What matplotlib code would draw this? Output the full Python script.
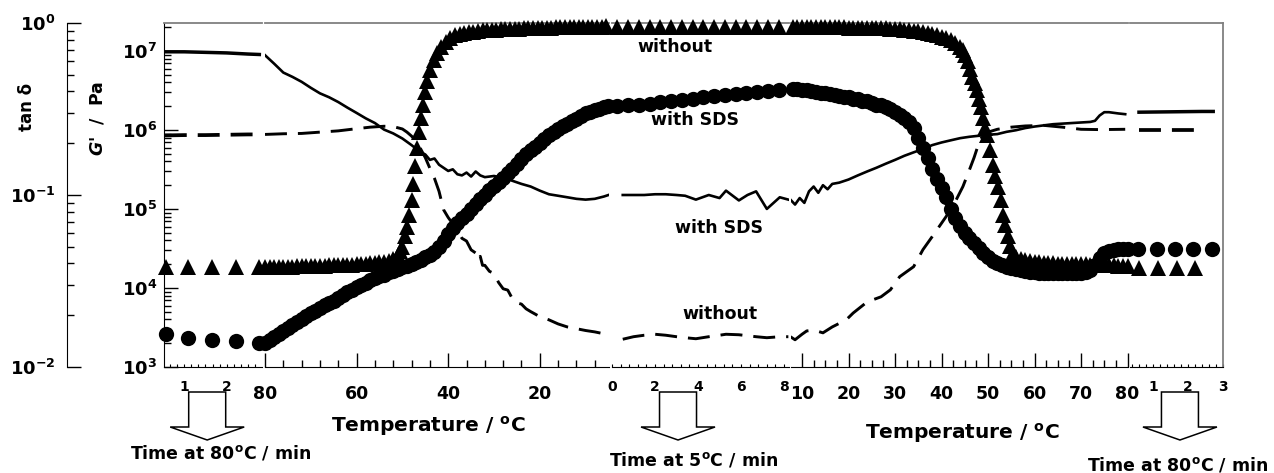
import matplotlib

matplotlib.use("Agg")
import matplotlib.pyplot as plt
import numpy as np
from matplotlib.patches import Polygon
from matplotlib.ticker import (FixedLocator, FuncFormatter, LogLocator,
                               MultipleLocator, NullFormatter)
from matplotlib.transforms import IdentityTransform

plt.rcParams["font.family"] = ["DejaVu Sans"]
plt.rcParams["font.weight"] = "bold"
plt.rcParams["mathtext.fontset"] = "custom"
plt.rcParams["mathtext.rm"] = "DejaVu Sans:bold"
plt.rcParams["mathtext.bf"] = "DejaVu Sans:bold"
plt.rcParams["mathtext.it"] = "DejaVu Sans:bold:italic"
plt.rcParams["mathtext.default"] = "rm"
plt.rcParams["lines.scale_dashes"] = False

# ---------------- data ----------------
# seg 1: held 80 C (time, min)
t1_mark = [0.56, 1.09, 1.65, 2.23, 2.77]
g_without_1 = [1.85e4, 1.85e4, 1.85e4, 1.85e4, 1.85e4]
g_sds_1 = [2.6e3, 2.3e3, 2.2e3, 2.15e3, 2.0e3]
t1_line = [0.54, 1.0, 1.5, 2.0, 2.5, 2.77]
tan_sds_1 = [0.68, 0.68, 0.675, 0.67, 0.66, 0.656]
tan_without_1 = [0.222, 0.223, 0.223, 0.224, 0.225, 0.225]

# seg 2: cooling 80 -> 5 C
T2_tri = [80, 79, 78, 77, 76, 75, 74, 73, 72, 71, 70, 69, 68, 67, 66, 65, 64, 63,
          62, 61, 60, 59, 58, 57, 56, 55, 54, 53, 52, 51,
          50.5, 50.0, 49.5, 49.0, 48.5, 48.0,
          47.6, 47.2, 46.8, 46.4, 46.0, 45.6, 45.1, 44.6, 44.0, 43.2, 42.4,
          41.5, 40.5, 39.5, 38.5, 37.5, 36.5, 35.5, 34.5, 33.5, 32.5, 31.5, 30.5,
          29.5, 28.5, 27.5, 26.5, 25.5, 24.5, 23.5, 22.5, 21.5, 20.5, 19.5, 18.5,
          17.5, 16.5, 15.5, 14.5, 13.5, 12.5, 11.5, 10.5, 9.5, 8.5, 7.5, 6.5, 5.5]
g_without_2 = [1.85e4, 1.85e4, 1.85e4, 1.86e4, 1.86e4, 1.87e4, 1.87e4, 1.88e4, 1.88e4,
               1.89e4, 1.90e4, 1.91e4, 1.92e4, 1.92e4, 1.93e4, 1.94e4, 1.95e4, 1.96e4,
               1.97e4, 1.98e4, 1.99e4, 2.01e4, 2.03e4, 2.05e4, 2.08e4, 2.12e4, 2.16e4,
               2.22e4, 2.35e4, 2.6e4,
               2.9e4, 3.3e4, 4.5e4, 6.0e4, 8.5e4, 1.3e5,
               2.1e5, 3.5e5, 6.0e5, 9.5e5, 1.4e6, 2.1e6, 3.0e6, 4.2e6, 5.7e6, 7.6e6, 9.5e6,
               1.12e7, 1.29e7, 1.45e7, 1.57e7, 1.64e7, 1.69e7, 1.73e7, 1.76e7, 1.79e7,
               1.82e7, 1.84e7, 1.85e7, 1.86e7, 1.87e7, 1.88e7, 1.9e7, 1.91e7, 1.92e7,
               1.93e7, 1.94e7, 1.95e7, 1.96e7, 1.97e7, 1.98e7, 1.98e7, 1.99e7, 2.0e7,
               2.0e7, 2.01e7, 2.01e7, 2.02e7, 2.02e7, 2.03e7, 2.03e7, 2.04e7, 2.04e7, 2.05e7]
T2_circ = [80, 79, 78, 77, 76, 75, 74, 73, 72, 71, 70, 69, 68, 67, 66, 65, 64, 63, 62,
           61, 60, 59, 58, 57, 56, 55, 54, 53, 52, 51, 50, 49, 48, 47, 46, 45, 44, 43,
           42, 41, 40, 39, 38, 37, 36, 35, 34, 33, 32, 31, 30, 29, 28, 27, 26, 25, 24,
           23, 22, 21, 20, 19, 18, 17, 16, 15, 14, 13, 12, 11, 10, 9, 8, 7, 6, 5]
g_sds_2 = [2.0e3, 2.19e3, 2.4e3, 2.63e3, 2.82e3, 3.09e3, 3.39e3, 3.72e3, 4.07e3, 4.37e3,
           4.79e3, 5.13e3, 5.62e3, 6.03e3, 6.46e3, 6.92e3, 7.41e3, 8.13e3, 8.91e3, 9.55e3,
           1.02e4, 1.10e4, 1.17e4, 1.26e4, 1.32e4, 1.41e4, 1.48e4, 1.58e4, 1.66e4, 1.74e4,
           1.82e4, 1.91e4, 2.04e4, 2.14e4, 2.29e4, 2.45e4, 2.63e4, 2.88e4, 3.31e4, 3.98e4,
           4.79e4, 5.75e4, 6.61e4, 7.59e4, 8.71e4, 1.0e5, 1.15e5, 1.32e5, 1.51e5, 1.74e5,
           1.95e5, 2.19e5, 2.45e5, 2.82e5, 3.24e5, 3.72e5, 4.27e5, 4.9e5, 5.5e5, 6.17e5,
           6.92e5, 7.76e5, 8.71e5, 9.55e5, 1.02e6, 1.12e6, 1.2e6, 1.29e6, 1.38e6, 1.51e6,
           1.62e6, 1.70e6, 1.78e6, 1.86e6, 1.95e6, 2.0e6]
T2_solid = [80, 78, 76, 74, 72, 70, 68, 66, 64, 62, 60, 58, 56, 54, 52, 50, 48, 46, 45,
            44, 43, 42, 40, 39, 38, 37, 36, 35, 34, 33, 32, 30, 28, 26, 24, 22, 20, 18,
            16, 14, 12, 10, 8, 6, 5]
tan_sds_2 = [0.65, 0.58, 0.515, 0.486, 0.455, 0.42, 0.39, 0.37, 0.347, 0.322, 0.30,
             0.279, 0.262, 0.24, 0.228, 0.213, 0.195, 0.177, 0.172, 0.16, 0.163, 0.15,
             0.138, 0.141, 0.132, 0.130, 0.135, 0.128, 0.137, 0.130, 0.127, 0.129, 0.126,
             0.121, 0.116, 0.112, 0.106, 0.101, 0.099, 0.097, 0.095, 0.094, 0.095, 0.098,
             0.100]
T2_dash = [80, 76, 72, 68, 64, 60, 57, 54, 52, 50, 49, 48, 47, 46, 45, 44, 43, 42, 41,
           40, 39, 38, 37, 36, 35, 34, 33.5, 33, 32.5, 32, 31, 30, 29, 28, 27, 26, 25,
           24, 23, 22, 21, 20, 18, 16, 14, 12, 10, 8, 6, 5]
tan_without_2 = [0.225, 0.227, 0.228, 0.232, 0.236, 0.243, 0.248, 0.251, 0.25, 0.242,
                 0.232, 0.22, 0.205, 0.185, 0.165, 0.143, 0.125, 0.105, 0.082, 0.074,
                 0.068, 0.062, 0.056, 0.054, 0.048, 0.046, 0.042, 0.044, 0.039, 0.039,
                 0.036, 0.035, 0.031, 0.0285, 0.028, 0.025, 0.0236, 0.0232, 0.0218, 0.021,
                 0.0203, 0.0196, 0.0188, 0.0178, 0.0171, 0.0167, 0.0163, 0.016, 0.0156,
                 0.0154]

# seg 3: held 5 C (time, min)
t3_mark = [0.25, 0.75, 1.25, 1.75, 2.25, 2.75, 3.25, 3.75, 4.25, 4.75, 5.25, 5.75,
           6.25, 6.75, 7.25, 7.75]
g_without_3 = [2.0e7, 2.0e7, 2.0e7, 2.0e7, 2.0e7, 2.01e7, 2.01e7, 2.01e7, 2.01e7, 2.01e7,
               2.02e7, 2.02e7, 2.02e7, 2.02e7, 2.03e7, 2.03e7]
g_sds_3 = [2.0e6, 2.05e6, 2.1e6, 2.15e6, 2.25e6, 2.3e6, 2.4e6, 2.5e6, 2.6e6, 2.7e6,
           2.75e6, 2.85e6, 2.95e6, 3.05e6, 3.15e6, 3.25e6]
t3_line = [0.5, 1.0, 1.5, 2.0, 2.5, 3.0, 3.4, 3.9, 4.5, 5.0, 5.3, 5.9, 6.3, 6.7, 7.2,
           7.8, 8.2]
tan_sds_3 = [0.100, 0.100, 0.100, 0.101, 0.101, 0.100, 0.099, 0.094, 0.100, 0.096,
             0.106, 0.093, 0.100, 0.105, 0.083, 0.097, 0.094]
tan_without_3 = [0.0145, 0.0150, 0.0153, 0.0155, 0.0153, 0.0150, 0.0148, 0.0146, 0.0150,
                 0.0153, 0.0155, 0.0154, 0.0152, 0.0150, 0.0148, 0.0150, 0.0150]

# seg 4: heating 5 -> 80 C
T4_tri = [8, 9, 10, 11, 12, 13, 14, 15, 16, 17, 18, 19, 20, 21, 22, 23, 24, 25, 26, 27,
          28, 29, 30, 31, 32, 33, 34, 35, 36, 37, 38, 39, 40, 41, 42, 43, 44,
          44.6, 45.1, 45.6, 46.1, 46.6, 47.1, 47.6, 48.0, 48.4, 48.9, 49.4, 49.8, 50.4,
          51.0, 51.6, 52.2, 52.7, 53.2, 53.7, 54.2, 54.7, 55.3,
          56, 57, 58, 59, 60, 61, 62, 63, 64, 65, 66, 67, 68, 69, 70, 71, 72, 73, 74,
          75, 76, 77, 78, 79, 80]
g_without_4 = [2.04e7, 2.04e7, 2.03e7, 2.03e7, 2.02e7, 2.02e7, 2.01e7, 2.01e7, 2.0e7,
               2.0e7, 1.99e7, 1.99e7, 1.98e7, 1.98e7, 1.97e7, 1.97e7, 1.96e7, 1.96e7,
               1.95e7, 1.94e7, 1.93e7, 1.92e7, 1.90e7, 1.88e7, 1.86e7, 1.83e7, 1.80e7,
               1.77e7, 1.73e7, 1.70e7, 1.65e7, 1.59e7, 1.52e7, 1.45e7, 1.38e7, 1.27e7,
               1.13e7,
               1.03e7, 8.8e6, 7.4e6, 6.0e6, 4.7e6, 3.9e6, 3.2e6, 2.5e6, 1.95e6, 1.4e6,
               1.05e6, 8.6e5, 5.6e5, 3.6e5, 2.6e5, 1.9e5, 1.3e5, 8.5e4, 6.2e4, 4.6e4,
               3.4e4, 2.8e4,
               2.5e4, 2.35e4, 2.25e4, 2.2e4, 2.15e4, 2.12e4, 2.1e4, 2.08e4, 2.06e4, 2.04e4,
               2.03e4, 2.02e4, 2.01e4, 2.0e4, 2.0e4, 1.99e4, 1.98e4, 1.97e4, 1.96e4,
               1.95e4, 1.94e4, 1.93e4, 1.92e4, 1.91e4, 1.9e4]
T4_circ = [8, 9, 10, 11, 12, 13, 14, 15, 16, 17, 18, 19, 20, 21, 22, 23, 24, 25, 26, 27,
           28, 29, 30, 31, 32, 33, 34, 35, 36, 37, 38, 39, 40, 41, 42, 43, 44, 45, 46, 47,
           48, 49, 50, 51, 52, 53, 54, 55, 56, 57, 58, 59, 60, 61, 62, 63, 64, 65, 66, 67,
           68, 69, 70, 71, 72, 73, 74, 75, 76, 77, 78, 79, 80]
g_sds_4 = [3.3e6, 3.3e6, 3.25e6, 3.2e6, 3.1e6, 3.05e6, 2.95e6, 2.9e6, 2.85e6, 2.8e6,
           2.7e6, 2.65e6, 2.6e6, 2.5e6, 2.45e6, 2.35e6, 2.3e6, 2.2e6, 2.1e6, 2.05e6,
           1.95e6, 1.85e6, 1.7e6, 1.55e6, 1.4e6, 1.25e6, 1.07e6, 8.0e5, 5.9e5, 4.4e5,
           3.2e5, 2.4e5, 1.85e5, 1.4e5, 1.0e5, 7.6e4, 6.1e4, 5.0e4, 4.3e4, 3.7e4, 3.2e4,
           2.8e4, 2.45e4, 2.2e4, 2.05e4, 1.95e4, 1.85e4, 1.78e4, 1.72e4, 1.67e4, 1.63e4,
           1.6e4, 1.58e4, 1.57e4, 1.56e4, 1.55e4, 1.54e4, 1.54e4, 1.53e4, 1.53e4, 1.53e4,
           1.54e4, 1.55e4, 1.6e4, 1.7e4, 1.95e4, 2.4e4, 2.75e4, 2.95e4, 3.05e4, 3.1e4,
           3.1e4, 3.1e4]
T4_solid = [7.5, 8.5, 9.5, 10.5, 11.5, 12.5, 13.5, 14.5, 15.5, 16.5, 18, 20, 22, 24, 26,
            28, 30, 32, 34, 36, 38, 40, 42, 44, 46, 48, 50, 52, 54, 56, 58, 60, 62, 64,
            66, 68, 70, 72, 73, 74, 75, 76, 78, 79.5]
tan_sds_4 = [0.094, 0.088, 0.096, 0.090, 0.105, 0.112, 0.103, 0.114, 0.108, 0.116, 0.118,
             0.123, 0.130, 0.137, 0.144, 0.152, 0.160, 0.169, 0.177, 0.185, 0.195, 0.202,
             0.208, 0.214, 0.218, 0.221, 0.224, 0.226, 0.233, 0.238, 0.245, 0.250, 0.254,
             0.258, 0.260, 0.262, 0.264, 0.266, 0.270, 0.290, 0.303, 0.303, 0.298, 0.295]
T4_dash = [7.5, 8.5, 10, 11, 12.5, 14.5, 16.5, 19.5, 21, 24, 27, 29, 31, 34, 36, 38, 41,
           43, 44.6, 46, 47, 48.3, 50, 52, 55, 58, 62, 66, 70, 74, 79.5]
tan_without_4 = [0.0150, 0.0144, 0.0155, 0.0162, 0.0164, 0.0158, 0.0171, 0.0188, 0.0206,
                 0.0239, 0.0256, 0.0281, 0.0335, 0.0383, 0.0481, 0.0573, 0.075, 0.092,
                 0.112, 0.140, 0.165, 0.211, 0.232, 0.241, 0.248, 0.252, 0.254, 0.248,
                 0.241, 0.240, 0.241]

# seg 5: held 80 C (time, min)
t5_circ = [0.57, 1.11, 1.63, 2.14, 2.69]
g_sds_5 = [3.1e4, 3.1e4, 3.1e4, 3.1e4, 3.1e4]
t5_tri = [0.6, 1.14, 1.69, 2.2]
g_without_5 = [1.8e4, 1.8e4, 1.8e4, 1.8e4]
t5_line = [0.6, 1.2, 1.8, 2.4, 2.72]
tan_sds_5 = [0.303, 0.304, 0.305, 0.306, 0.306]
t5_dash = [0.6, 1.2, 1.8, 2.3]
tan_without_5 = [0.238, 0.238, 0.238, 0.238]

# ---------------- layout ----------------
W, H = 1274, 473
fig = plt.figure(figsize=(W / 100, H / 100), dpi=100)
Y0, Y1 = 367, 23
bot, hgt = (H - Y0) / H, (Y0 - Y1) / H

# (left px, right px, xlim, kind)
segs = [
    (164, 262, (0.521, 2.833), "time"),
    (265, 609, (80, 4.89), "temp"),
    (612, 789, (0, 8.23), "time"),
    (791, 1128, (7.63, 80.1), "temp"),
    (1130, 1223, (0.343, 3.0), "time"),
]
locs = [
    (MultipleLocator(1), MultipleLocator(1 / 6)),
    (FixedLocator([80, 60, 40, 20]), MultipleLocator(4)),
    (MultipleLocator(2), MultipleLocator(0.4)),
    (MultipleLocator(10), MultipleLocator(2.5)),
    (MultipleLocator(1), MultipleLocator(0.2)),
]
dec_fmt = FuncFormatter(lambda v, p: f"$10^{{{int(round(np.log10(v)))}}}$")

axs, tws = [], []
for i, (l, r, xl, kind) in enumerate(segs):
    ax = fig.add_axes([l / W, bot, (r - l) / W, hgt])
    ax.set_yscale("log")
    ax.set_ylim(1e3, 2.26e7)
    ax.set_xlim(*xl)
    ax.patch.set_visible(False)
    tw = ax.twinx()
    tw.set_yscale("log")
    tw.set_ylim(0.01, 1)
    tw.axis("off")

    ax.spines["top"].set_color("#808080")
    ax.spines["top"].set_linewidth(1.3)
    ax.spines["right"].set_color("#808080")
    ax.spines["right"].set_linewidth(1.3)
    ax.spines["right"].set_visible(i == 4)
    ax.spines["left"].set_visible(i == 0)
    ax.xaxis.set_major_locator(locs[i][0])
    ax.xaxis.set_minor_locator(locs[i][1])
    if kind == "temp":
        ax.tick_params(axis="x", which="major", direction="in", length=10, width=1,
                       labelsize=12.5, pad=13)
        ax.tick_params(axis="x", which="minor", direction="in", length=5, width=1)
    else:
        ax.tick_params(axis="x", which="both", direction="in", length=2.5, width=0.8,
                       labelsize=10, pad=9.5)
    if i == 0:
        ax.yaxis.set_major_locator(LogLocator(base=10, numticks=10))
        ax.yaxis.set_minor_locator(LogLocator(base=10, subs=np.arange(2, 10), numticks=20))
        ax.yaxis.set_major_formatter(dec_fmt)
        ax.yaxis.set_minor_formatter(NullFormatter())
        ax.tick_params(axis="y", which="major", direction="in", length=10, width=1,
                       labelsize=13, pad=5, right=False)
        ax.tick_params(axis="y", which="minor", direction="in", length=5, width=1,
                       right=False)
    else:
        ax.tick_params(axis="y", which="both", left=False, right=False,
                       labelleft=False, labelright=False)
    axs.append(ax)
    tws.append(tw)

# tan delta axis (separate spine on the far left)
axt = fig.add_axes([67 / W, bot, 0.0008, hgt])
axt.set_yscale("log")
axt.set_ylim(0.01, 1)
axt.set_xticks([])
axt.patch.set_visible(False)
for s in ("top", "right", "bottom"):
    axt.spines[s].set_visible(False)
axt.yaxis.set_major_locator(LogLocator(base=10, numticks=10))
axt.yaxis.set_minor_locator(LogLocator(base=10, subs=np.arange(2, 10), numticks=20))
axt.yaxis.set_major_formatter(dec_fmt)
axt.yaxis.set_minor_formatter(NullFormatter())
axt.tick_params(axis="y", which="major", direction="in", length=10, width=1,
                labelsize=13, pad=8)
axt.tick_params(axis="y", which="minor", direction="in", length=5, width=1)

# ---------------- marks ----------------
TRI = dict(marker="^", ls="none", ms=11.5, color="k", mew=0, clip_on=False, zorder=3)
CIR = dict(marker="o", ls="none", ms=11, color="k", mew=0, clip_on=False, zorder=3)
SOL = dict(color="k", ls="-", lw=1.9)
DSH = dict(color="k", lw=2.1, dashes=(15.8, 7.9))

marks = [
    (t1_mark, g_without_1, t1_mark, g_sds_1),
    (T2_tri, g_without_2, T2_circ, g_sds_2),
    (t3_mark, g_without_3, t3_mark, g_sds_3),
    (T4_tri, g_without_4, T4_circ, g_sds_4),
    (t5_tri, g_without_5, t5_circ, g_sds_5),
]
lines = [
    (t1_line, tan_sds_1, t1_line, tan_without_1),
    (T2_solid, tan_sds_2, T2_dash, tan_without_2),
    (t3_line, tan_sds_3, t3_line, tan_without_3),
    (T4_solid, tan_sds_4, T4_dash, tan_without_4),
    (t5_line, tan_sds_5, t5_dash, tan_without_5),
]
for i in range(5):
    xt, yt, xc, yc = marks[i]
    axs[i].plot(xt, yt, **TRI)
    axs[i].plot(xc, yc, **CIR)
    xs, ys, xd, yd = lines[i]
    lw_extra = 0.6 if i in (0, 4) else 0
    tws[i].plot(xs, ys, **{**SOL, "lw": SOL["lw"] + lw_extra})
    tws[i].plot(xd, yd, **{**DSH, "lw": DSH["lw"] + lw_extra})

# curve labels
ANN = dict(ha="center", va="center", fontsize=12.5)
axs[2].text(2.93, 1.12e7, "without", **ANN)
axs[2].text(3.86, 1.34e6, "with SDS", **ANN)
tws[2].text(4.98, 0.0645, "with SDS", **ANN)
tws[2].text(5.02, 0.0204, "without", **ANN)

# axis titles
fig.text(27 / W, 1 - 107 / H, "tan δ", rotation=90, ha="center", va="center", fontsize=12)
fig.text(98 / W, 1 - 118 / H, r"$\mathit{G}$'  /  Pa", rotation=90, ha="center",
         va="center", fontsize=12.5)
fig.text(428 / W, 1 - 426 / H, r"Temperature / $^{o}$C", ha="center", va="center",
         fontsize=14.5)
fig.text(962 / W, 1 - 433 / H, r"Temperature / $^{o}$C", ha="center", va="center",
         fontsize=14.5)
fig.text(221 / W, 1 - 453 / H, r"Time at 80$^{o}$C / min", ha="center", va="center",
         fontsize=12.5)
fig.text(694 / W, 1 - 460 / H, r"Time at 5$^{o}$C / min", ha="center", va="center",
         fontsize=12.5)
fig.text(1178 / W, 1 - 465 / H, r"Time at 80$^{o}$C / min", ha="center", va="center",
         fontsize=12.5)


# hollow down arrows under the time segments
def down_arrow(ax, xc):
    cx = ax.get_xaxis_transform().transform((xc, 0))[0]
    pts = [(cx - 18.5, 392), (cx + 18.5, 392), (cx + 18.5, 427), (cx + 37, 427),
           (cx, 440), (cx - 37, 427), (cx - 18.5, 427)]
    pts = [(x, H - y) for x, y in pts]
    fig.add_artist(Polygon(pts, closed=True, fill=False, ec="k", lw=1.1,
                           transform=IdentityTransform()))


down_arrow(axs[0], 1.54)
down_arrow(axs[2], 3.07)
down_arrow(axs[4], 1.77)

fig.savefig("out.png", dpi=100)
